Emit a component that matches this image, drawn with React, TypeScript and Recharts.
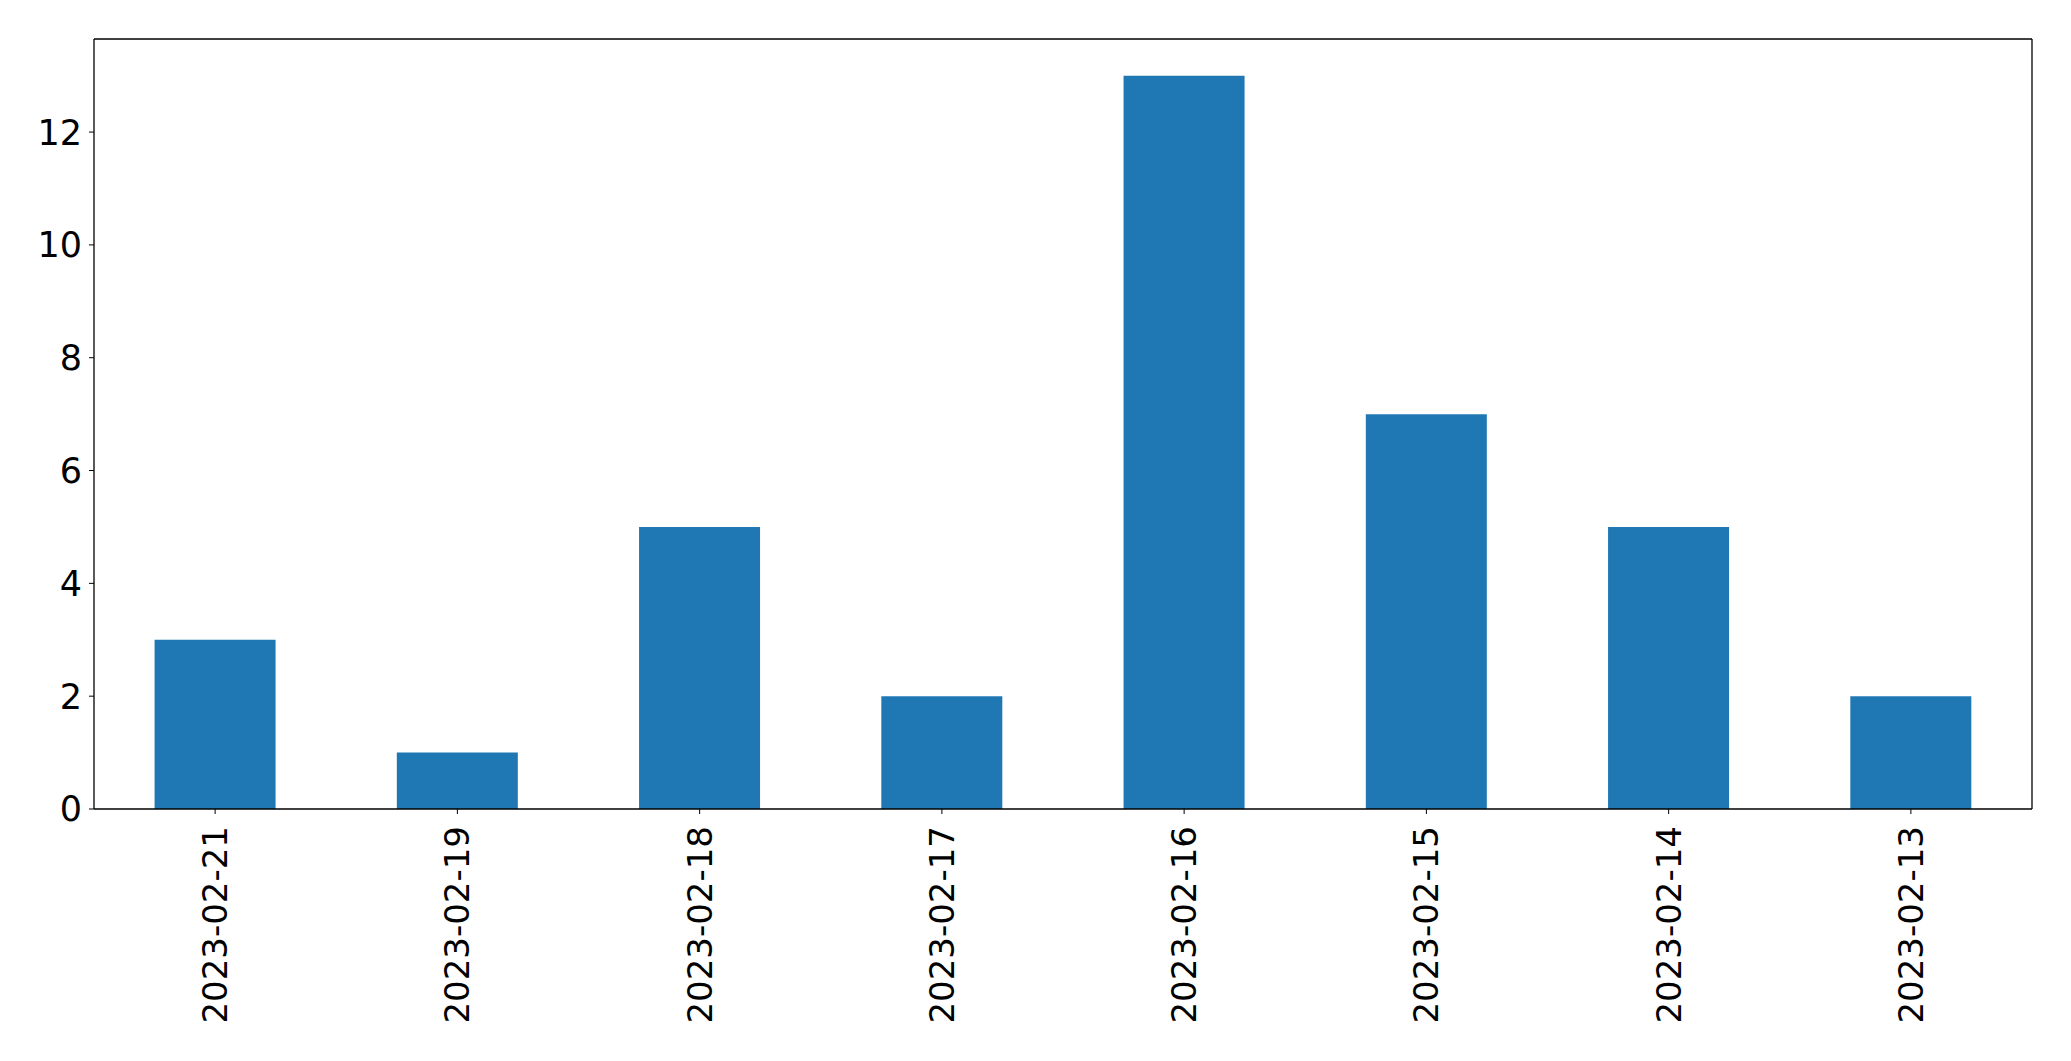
import { BarChart, Bar, XAxis, YAxis } from "recharts";

const DATES = [
  "2023-02-21", "2023-02-19", "2023-02-18", "2023-02-17",
  "2023-02-16", "2023-02-15", "2023-02-14", "2023-02-13",
];
const COUNTS = [3, 1, 5, 2, 13, 7, 5, 2];
const Y_TICKS = [0, 2, 4, 6, 8, 10, 12];

const FONT = "DejaVu Sans";
const data = DATES.map((d, i) => ({ date: d, count: COUNTS[i] }));

// rotated date label, reads bottom to top
const DateTick = (props: any) => {
  const { x, y, payload } = props;
  return (
    <text
      x={x}
      y={y}
      transform={`rotate(-90, ${x}, ${y})`}
      textAnchor="end"
      dominantBaseline="central"
      fill="#000"
      fontSize={34}
      fontFamily={FONT}
    >
      {payload.value}
    </text>
  );
};

export default function App() {
  return (
    <div style={{ position: "absolute", left: 0, top: 0, background: "#fff" }}>
      <BarChart
        width={2071}
        height={1061}
        data={data}
        margin={{ top: 0, right: 0, bottom: 0, left: 0 }}
        barCategoryGap="25%"
      >
        <XAxis
          dataKey="date"
          height={252}
          interval={0}
          tick={<DateTick />}
          tickSize={5}
          tickMargin={12}
          axisLine={{ stroke: "#000", strokeWidth: 1.3 }}
          tickLine={{ stroke: "#000" }}
        />
        <XAxis
          xAxisId="top"
          dataKey="date"
          orientation="top"
          height={39}
          tick={false}
          tickLine={false}
          axisLine={{ stroke: "#000", strokeWidth: 1.3 }}
        />
        <YAxis
          width={94}
          domain={[0, 13.65]}
          ticks={Y_TICKS}
          tickSize={5}
          tickMargin={7}
          tick={{ fill: "#000", fontSize: 35, fontFamily: FONT }}
          axisLine={{ stroke: "#000", strokeWidth: 1.3 }}
          tickLine={{ stroke: "#000" }}
        />
        <YAxis
          yAxisId="right"
          orientation="right"
          width={39}
          domain={[0, 13.65]}
          tick={false}
          tickLine={false}
          axisLine={{ stroke: "#000", strokeWidth: 1.3 }}
        />
        <Bar dataKey="count" fill="#1f77b4" isAnimationActive={false} />
      </BarChart>
    </div>
  );
}
